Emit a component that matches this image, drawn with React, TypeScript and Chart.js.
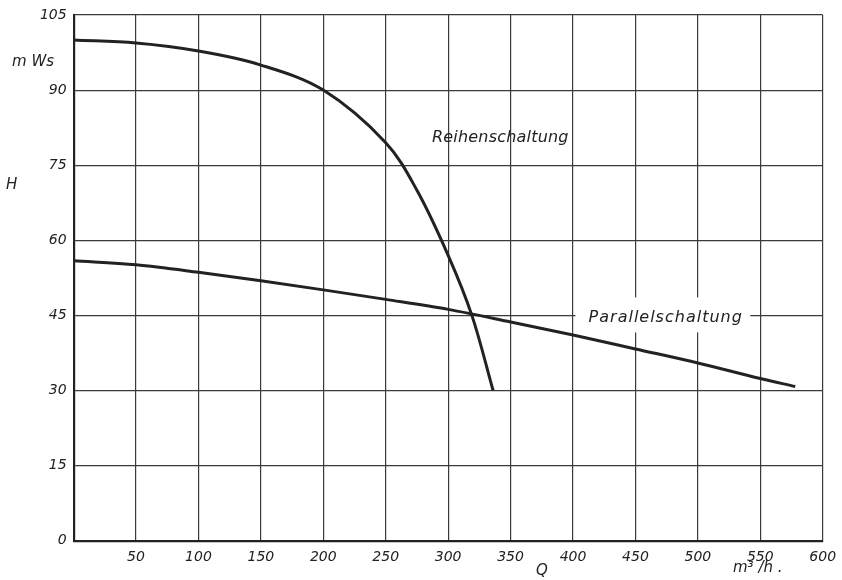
import React, { useEffect, useRef } from "react";
import { Chart, registerables } from "chart.js";

Chart.register(...registerables);

// Reihenschaltung (series connection)
const reihenQ = [0, 50, 100, 150, 200, 250, 275, 300, 319, 336];
const reihenH = [100, 99.4, 97.8, 95, 90, 79.5, 70, 57, 45, 30];

// Parallelschaltung (parallel connection)
const parallelQ = [0, 50, 100, 150, 200, 250, 300, 350, 400, 450, 500, 550, 578];
const parallelH = [55.9, 55.1, 53.6, 51.9, 50.1, 48.2, 46.2, 43.7, 41.1, 38.3, 35.5, 32.4, 30.8];

const xTicks = [50, 100, 150, 200, 250, 300, 350, 400, 450, 500, 550, 600];
const yTicks = [0, 15, 30, 45, 60, 75, 90, 105];

const INK = "#222222";
const GRID = "#3a3a3a";
const FONT = "'DejaVu Sans', sans-serif";

const labelPlugin = {
  id: "labels",
  beforeDatasetsDraw(chart: any) {
    const { ctx, scales } = chart;
    const x = scales.x;
    const y = scales.y;
    // white box behind "Parallelschaltung"
    const l = x.getPixelForValue(402);
    const r = x.getPixelForValue(542);
    const t = y.getPixelForValue(48.6);
    const b = y.getPixelForValue(41.6);
    ctx.save();
    ctx.fillStyle = "#ffffff";
    ctx.fillRect(l, t, r - l, b - t);
    ctx.restore();
  },
  afterDraw(chart: any) {
    const { ctx, scales } = chart;
    const x = scales.x;
    const y = scales.y;
    ctx.save();
    ctx.fillStyle = INK;
    ctx.textBaseline = "middle";
    ctx.font = `italic 16px ${FONT}`;
    ctx.textAlign = "left";
    (ctx as any).letterSpacing = "0.2px";
    ctx.fillText("Reihenschaltung", x.getPixelForValue(287), y.getPixelForValue(80.4));
    (ctx as any).letterSpacing = "1px";
    ctx.fillText("Parallelschaltung", x.getPixelForValue(412.5), y.getPixelForValue(44.5));
    (ctx as any).letterSpacing = "0px";
    // axis titles
    ctx.font = `italic 15px ${FONT}`;
    ctx.fillText("m Ws", 12, 62);
    ctx.fillText("H", 6, 185);
    ctx.fillText("Q", 536, 571);
    ctx.fillText("m³ /h .", 733, 568);
    ctx.restore();
  },
};

export default function App() {
  const ref = useRef<HTMLCanvasElement | null>(null);

  useEffect(() => {
    if (!ref.current) return;
    const chart = new Chart(ref.current, {
      type: "line",
      data: {
        datasets: [
          {
            label: "Reihenschaltung",
            data: reihenQ.map((q, i) => ({ x: q, y: reihenH[i] })),
            borderColor: INK,
            borderWidth: 3,
            pointRadius: 0,
            fill: false,
            tension: 0.35,
          },
          {
            label: "Parallelschaltung",
            data: parallelQ.map((q, i) => ({ x: q, y: parallelH[i] })),
            borderColor: INK,
            borderWidth: 3,
            pointRadius: 0,
            fill: false,
            cubicInterpolationMode: "monotone",
          },
        ],
      },
      options: {
        responsive: false,
        animation: false,
        layout: { padding: { left: 0, right: 19.3, top: 15, bottom: 0 } },
        plugins: {
          legend: { display: false },
          tooltip: { enabled: false },
        },
        scales: {
          x: {
            type: "linear",
            min: 0,
            max: 600,
            afterBuildTicks: (scale: any) => {
              scale.ticks = [0, ...xTicks].map((v) => ({ value: v }));
            },
            afterFit: (scale: any) => {
              scale.height = 39.3;
              scale.paddingRight = 0;
              scale.paddingLeft = 0;
            },
            ticks: {
              callback: (v: any) => (v === 0 ? "" : String(v)),
              color: INK,
              padding: 8,
              maxRotation: 0,
              autoSkip: false,
              font: { family: FONT, size: 14, style: "italic" },
            },
            grid: { color: GRID, lineWidth: 1.2, drawTicks: false },
            border: { display: true, color: INK, width: 2.2 },
          },
          y: {
            type: "linear",
            min: 0,
            max: 105,
            afterBuildTicks: (scale: any) => {
              scale.ticks = yTicks.map((v) => ({ value: v }));
            },
            afterFit: (scale: any) => {
              scale.width = 73.6;
              scale.paddingTop = 0;
              scale.paddingBottom = 0;
            },
            ticks: {
              color: INK,
              padding: 7,
              autoSkip: false,
              font: { family: FONT, size: 14, style: "italic" },
            },
            grid: { color: GRID, lineWidth: 1.2, drawTicks: false },
            border: { display: true, color: INK, width: 2.2 },
          },
        },
      },
      plugins: [labelPlugin],
    });
    return () => chart.destroy();
  }, []);

  return (
    <div style={{ position: "absolute", left: 0, top: 0, width: 842, height: 580, background: "#fff" }}>
      <canvas ref={ref} width={842} height={580} style={{ display: "block" }} />
    </div>
  );
}
